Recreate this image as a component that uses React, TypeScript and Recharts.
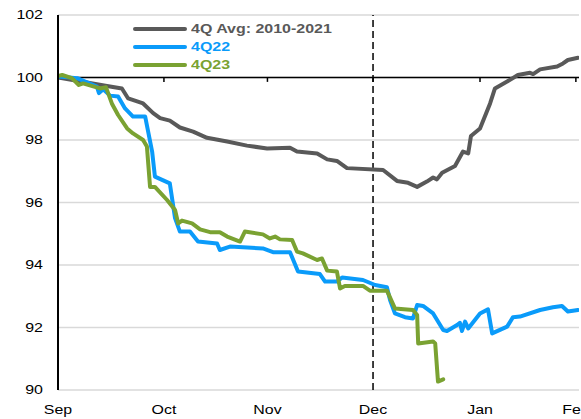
import React from "react";
import { LineChart, Line, XAxis, YAxis, CartesianGrid, ReferenceLine } from "recharts";

// x values are positions in "chart days" from the start of September
const monthTicks = [0, 30.5, 60.3, 90.7, 121.5, 149.1];
const monthLabels = ["Sep", "Oct", "Nov", "Dec", "Jan", "Feb"];
const yTicks = [90, 92, 94, 96, 98, 100, 102];

const avgDays = [0, 14.1, 18.4, 20.2, 24.5, 27.4, 29.4, 32.2, 35.1, 38.9, 42.9, 48.7, 54.4, 60.2, 66.8, 68.8, 74.6, 77.5, 80.3, 83.2, 93.6, 97.6, 100.8, 103.4, 106.2, 108.0, 109.1, 110.6, 114.3, 116.6, 118.1, 118.9, 121.5, 124.4, 125.8, 129.3, 132.4, 135.9, 136.8, 138.8, 143.7, 145.4, 146.8, 149.7];
const avgValues = [100.0, 99.73, 99.65, 99.33, 99.17, 98.86, 98.7, 98.62, 98.4, 98.27, 98.07, 97.95, 97.82, 97.73, 97.75, 97.63, 97.57, 97.38, 97.33, 97.1, 97.04, 96.69, 96.63, 96.5, 96.67, 96.8, 96.74, 96.95, 97.17, 97.63, 97.57, 98.13, 98.37, 99.17, 99.65, 99.87, 100.08, 100.15, 100.11, 100.26, 100.35, 100.45, 100.56, 100.63];

const q22Days = [0, 5.5, 11.2, 11.8, 13.0, 15.0, 17.3, 19.3, 21.6, 25.1, 27.1, 27.9, 32.2, 33.7, 35.1, 38.0, 40.3, 45.8, 46.6, 49.5, 59.0, 61.9, 66.8, 69.1, 75.4, 76.9, 80.3, 81.8, 87.8, 91.3, 94.7, 95.6, 97.0, 99.9, 102.2, 103.4, 105.1, 108.0, 110.9, 112.0, 114.9, 115.7, 116.3, 117.2, 118.1, 121.5, 123.8, 125.0, 129.3, 131.0, 133.0, 138.8, 142.5, 145.1, 146.8, 149.7];
const q22Values = [100.03, 99.98, 99.71, 99.5, 99.62, 99.42, 99.39, 99.01, 98.75, 98.75, 97.63, 96.83, 96.61, 95.5, 95.07, 95.07, 94.75, 94.69, 94.48, 94.59, 94.53, 94.41, 94.41, 93.79, 93.71, 93.47, 93.47, 93.6, 93.52, 93.36, 93.29, 92.88, 92.45, 92.33, 92.29, 92.72, 92.69, 92.45, 91.92, 91.89, 92.08, 92.15, 91.89, 92.19, 91.97, 92.45, 92.58, 91.81, 92.03, 92.33, 92.35, 92.56, 92.65, 92.69, 92.51, 92.56];

const q23Days = [0, 1.2, 4.0, 6.0, 7.2, 12.1, 13.8, 15.5, 17.3, 19.9, 21.6, 24.5, 25.6, 26.5, 27.9, 31.4, 33.7, 34.6, 35.7, 38.6, 40.9, 43.8, 46.6, 48.7, 52.4, 53.8, 59.0, 61.0, 62.5, 63.9, 67.4, 68.8, 70.5, 74.6, 76.0, 77.5, 80.3, 81.2, 82.6, 87.8, 89.8, 94.7, 97.0, 102.2, 103.4, 103.7, 108.0, 108.6, 109.4, 110.9];
const q23Values = [100.05, 100.08, 99.98, 99.76, 99.81, 99.65, 99.69, 99.17, 98.8, 98.37, 98.21, 98.0, 97.79, 96.5, 96.5, 96.08, 95.76, 95.33, 95.42, 95.33, 95.14, 95.05, 95.05, 94.91, 94.75, 95.07, 94.98, 94.85, 94.91, 94.82, 94.8, 94.43, 94.37, 94.16, 94.21, 93.82, 93.79, 93.25, 93.33, 93.33, 93.18, 93.18, 92.61, 92.56, 92.4, 91.49, 91.55, 91.49, 90.27, 90.34];

const toPoints = (xs: number[], ys: number[]) => xs.map((x, i) => ({ x, y: ys[i] }));

const series = [
  { name: "4Q Avg: 2010-2021", color: "#595959", data: toPoints(avgDays, avgValues) },
  { name: "4Q22", color: "#0A9BFA", data: toPoints(q22Days, q22Values) },
  { name: "4Q23", color: "#7AA232", data: toPoints(q23Days, q23Values) },
];

const FONT = "'Liberation Sans', Arial, sans-serif";
const STRETCH = 1.33;

const YTick = (props: any) => {
  const { x, y, payload } = props;
  return (
    <text transform={`translate(${x},${y}) scale(${STRETCH},1)`} x={0} y={0} dy="0.355em" textAnchor="end" fontSize={12} fontFamily={FONT} fill="#000">
      {payload.value}
    </text>
  );
};

const XTick = (props: any) => {
  const { x, y, payload } = props;
  const idx = monthTicks.indexOf(payload.value);
  return (
    <text transform={`translate(${x},${y}) scale(${STRETCH},1)`} x={0} y={0} dy="0.71em" textAnchor="middle" fontSize={12} fontFamily={FONT} fill="#000">
      {monthLabels[idx]}
    </text>
  );
};

export default function App() {
  return (
    <div style={{ position: "absolute", left: 0, top: 0, width: 581, height: 419, background: "#fff" }}>
      <LineChart width={581} height={419} margin={{ top: 15, right: 2, bottom: 0, left: 0 }}>
        <CartesianGrid vertical={false} stroke="#d9d9d9" strokeWidth={1.5} />
        <XAxis
          type="number"
          dataKey="x"
          domain={[0, 150]}
          ticks={monthTicks}
          interval={0}
          allowDataOverflow
          axisLine={false}
          tickLine={false}
          tickSize={0}
          tickMargin={15}
          height={29}
          tick={<XTick />}
        />
        <YAxis
          type="number"
          dataKey="y"
          domain={[90, 102]}
          ticks={yTicks}
          interval={0}
          width={58}
          axisLine={{ stroke: "#000", strokeWidth: 2 }}
          tickLine={false}
          tickSize={0}
          tickMargin={15}
          tick={<YTick />}
        />
        <ReferenceLine y={100} stroke="#000" strokeWidth={1.5} />
        {monthTicks.slice(1).map((t) => (
          <ReferenceLine
            key={t}
            segment={[{ x: t, y: 100 }, { x: t, y: 99.86 }]}
            stroke="#000"
            strokeWidth={1.5}
          />
        ))}
        <ReferenceLine x={monthTicks[3]} stroke="#000" strokeWidth={1.5} strokeDasharray="7 4" />
        {series.map((s) => (
          <Line
            key={s.name}
            data={s.data}
            dataKey="y"
            name={s.name}
            type="linear"
            stroke={s.color}
            strokeWidth={4}
            strokeLinejoin="round"
            strokeLinecap="round"
            dot={false}
            activeDot={false}
            isAnimationActive={false}
          />
        ))}
      </LineChart>
      <div style={{ position: "absolute", left: 133, top: 20, pointerEvents: "none" }}>
        {series.map((s) => (
          <div key={s.name} style={{ position: "relative", height: 18, width: 260 }}>
            <div style={{ position: "absolute", left: 0, top: 7, width: 54, height: 4, borderRadius: 2, background: s.color }} />
            <div
              style={{
                position: "absolute",
                left: 58,
                top: 1,
                fontFamily: FONT,
                fontWeight: 700,
                fontSize: 12,
                lineHeight: "16px",
                color: s.color,
                transform: `scaleX(${STRETCH})`,
                transformOrigin: "left center",
                whiteSpace: "nowrap",
              }}
            >
              {s.name}
            </div>
          </div>
        ))}
      </div>
    </div>
  );
}
